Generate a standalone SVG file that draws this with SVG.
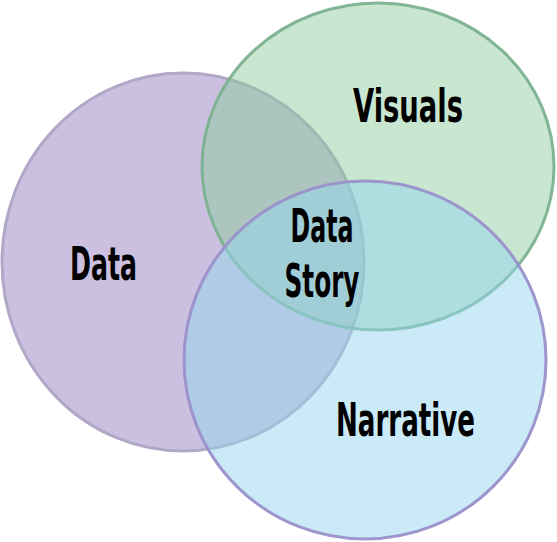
<svg xmlns="http://www.w3.org/2000/svg" width="557" height="542" viewBox="0 0 557 542">
<style>
.lbl{font-family:"DejaVu Sans Condensed","DejaVu Sans","Liberation Sans",sans-serif;font-stretch:condensed;font-weight:bold;font-size:46px;fill:#000;text-anchor:middle}
.c{stroke-width:3}
</style>
<rect width="557" height="542" fill="#fff"/>
<g id="data">
<ellipse class="c" cx="183" cy="262" rx="181" ry="189" fill="#cbc0df" stroke="#b0a8c6"/>
</g>
<g id="visuals">
<ellipse class="c" cx="378" cy="166.5" rx="176" ry="163.5" fill="rgb(140,203,157)" fill-opacity="0.48" stroke="#7bb18f" stroke-opacity="0.95"/>
</g>
<g id="narrative">
<ellipse class="c" cx="365" cy="360" rx="181" ry="179" fill="rgb(147,213,237)" fill-opacity="0.5" stroke="#9a90cb" stroke-opacity="0.95"/>
</g>
<g id="labels">
<text class="lbl" x="408" y="122" textLength="110" lengthAdjust="spacingAndGlyphs">Visuals</text>
<text class="lbl" x="103.5" y="280" textLength="67" lengthAdjust="spacingAndGlyphs">Data</text>
<text class="lbl" x="322" y="242" textLength="63" lengthAdjust="spacingAndGlyphs">Data</text>
<text class="lbl" x="322" y="297" textLength="75" lengthAdjust="spacingAndGlyphs">Story</text>
<text class="lbl" x="405.5" y="436" textLength="139" lengthAdjust="spacingAndGlyphs">Narrative</text>
</g>
</svg>
